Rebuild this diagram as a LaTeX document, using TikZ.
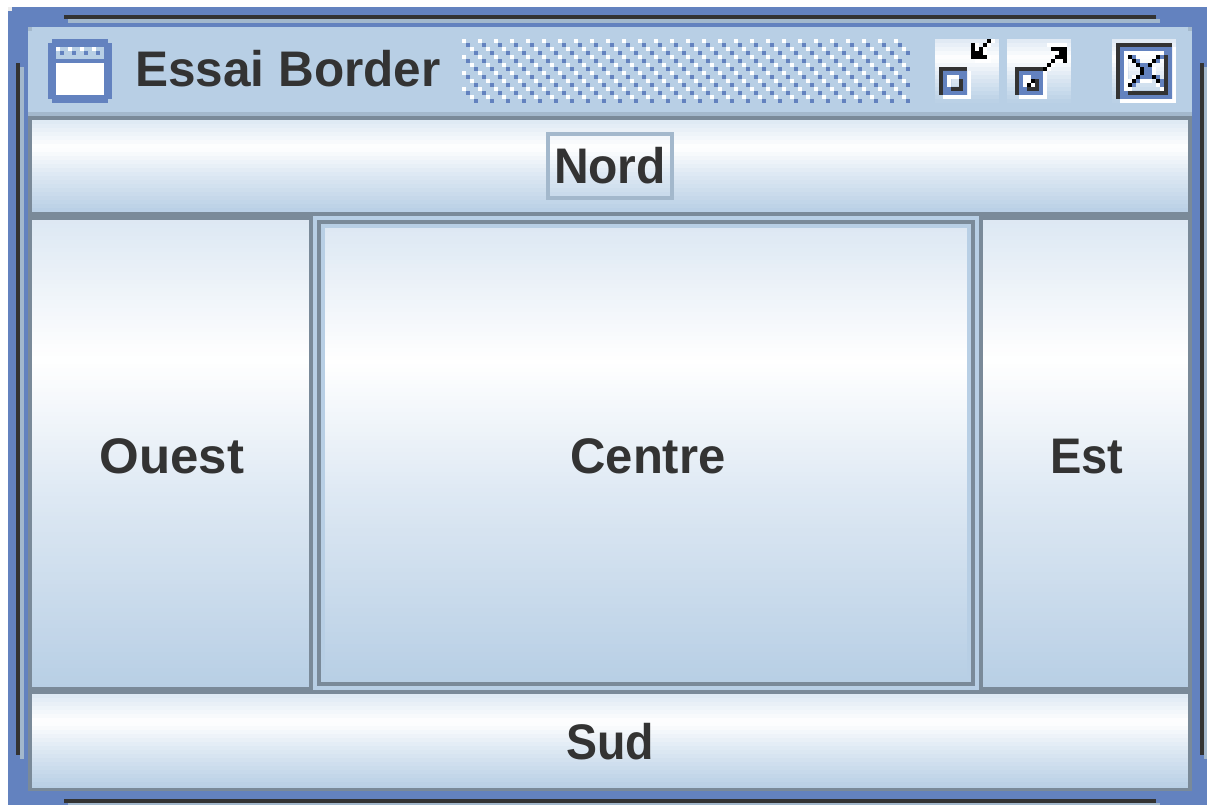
\documentclass[tikz,border=0pt]{standalone}
\usepackage{fontspec}
\setmainfont{Liberation Sans}
\definecolor{frameblue}{HTML}{6382BF}
\definecolor{ink}{HTML}{333333}
\definecolor{steel}{HTML}{7A8A99}
\definecolor{soft}{HTML}{A3B8CC}
\definecolor{grB}{HTML}{B8CFE5}
\definecolor{grA}{HTML}{DDE8F3}
\tikzset{lbl/.style={font=\fontsize{50}{50}\selectfont\bfseries, text=ink, inner sep=0pt, outer sep=0pt, anchor=base}}
% metal gradient in 4px bands: x0 y0 x1 y1
\newcommand\bands[4]{%
  \begin{scope}
    \clip (#1,#2) rectangle (#3,#4);
    \pgfmathtruncatemacro\nrm{ceil((#4-#2)/4)-1}
    \foreach \i in {0,...,\nrm}{%
      \pgfmathsetmacro\tpos{(\i*4+2)/(#4-#2)*100}
      \pgfmathsetmacro\ytop{#2+\i*4}
      \ifdim\tpos pt<30pt
        \pgfmathsetmacro\pc{\tpos/30*100}
        \colorlet{bandc}{white!\pc!grA}
      \else\ifdim\tpos pt<60pt
        \pgfmathsetmacro\pc{(60-\tpos)/30*100}
        \colorlet{bandc}{white!\pc!grA}
      \else
        \pgfmathsetmacro\pc{min(100,(\tpos-60)/40*100)}
        \colorlet{bandc}{grB!\pc!grA}
      \fi\fi
      \fill[bandc] (#1,\ytop) rectangle (#3,\ytop+5);
    }
  \end{scope}}
% single cells on a 4px grid: colour, x0, y0, list of col/row
\newcommand\cells[4]{\foreach \cc/\rr in {#4}{\fill[#1] ({#2+4*\cc},{#3+4*\rr}) rectangle +(4,4);}}
\begin{document}
\begin{tikzpicture}[x=1pt,y=-1pt]
\useasboundingbox (0,0) rectangle (1207,805);
\fill[white] (0,0) rectangle (1207,805);
% outer frame
\fill[frameblue] (8,7) rectangle (1207,805);
\fill[white!93!black] (8,7) rectangle (12,11);
% bumps
\fill[ink] (64,15) rectangle (1156,19);
\fill[soft] (68,19) rectangle (1160,23);
\fill[ink] (64,799) rectangle (1156,803);
\fill[soft] (68,803) rectangle (1160,805);
\fill[ink] (16,63) rectangle (20,755);
\fill[soft] (20,67) rectangle (24,759);
\fill[ink] (1200,63) rectangle (1204,755);
\fill[soft] (1204,67) rectangle (1207,759);
% title bar
\fill[grB] (28,27) rectangle (1192,112);
\fill[soft] (28,27) rectangle (32,31);
\fill[soft] (1188,27) rectangle (1192,31);
\fill[soft] (28,112) rectangle (1192,116);
% content frame
\fill[steel] (28,116) rectangle (1192,791);
% buttons
\bands{32}{120}{1188}{212}
\bands{32}{220}{309}{686}
\bands{983}{220}{1188}{686}
\bands{32}{694}{1188}{787}
% centre button
\fill[grB] (313,216) rectangle (979,690);
\fill[steel] (317,220) rectangle (975,686);
\fill[grB] (321,224) rectangle (971,682);
\bands{325}{228}{967}{678}
\fill[grB] (325,678) rectangle (967,682);
% Nord focus ring
\draw[soft,line width=4pt] (548,134) rectangle (672,198);
% window icon
\fill[frameblue] (52,39) rectangle (108,103);
\fill[frameblue] (48,43) rectangle (112,99);
\fill[white] (56,63) rectangle (104,95);
\fill[grB] (56,47) rectangle (104,59);
\cells{white}{56}{47}{0/0,3/0,6/0,9/0}
\cells{frameblue}{56}{47}{1/1,4/1,7/1,10/1}
% title dither
\foreach \k in {0,...,27}{\foreach \m in {0,...,3}{%
  \fill[white] ({462+16*\k},{39+16*\m}) rectangle +(4,4);
  \fill[frameblue] ({466+16*\k},{43+16*\m}) rectangle +(4,4);
  \fill[white] ({470+16*\k},{47+16*\m}) rectangle +(4,4);
  \fill[frameblue] ({474+16*\k},{51+16*\m}) rectangle +(4,4);
}}
% iconify button
\bands{935}{39}{999}{103}
\begin{scope}[shift={(935,39)},x=4pt,y=-4pt]
  \fill[white] (2,14) rectangle (9,15);
  \fill[white] (8,8) rectangle (9,15);
  \fill[ink] (1,7) rectangle (8,8);
  \fill[ink] (1,7) rectangle (2,14);
  \fill[frameblue,even odd rule] (2,8) rectangle (8,14) (4,10) rectangle (6,12);
  \fill[white] (3,9) rectangle (6,10);
  \fill[white] (3,9) rectangle (4,12);
  \fill[ink] (4,12) rectangle (7,13);
  \fill[ink] (6,10) rectangle (7,13);
  \fill[white] (10,5) rectangle (14,6);
  \fill[white] (10,1) rectangle (11,3);
  \fill[white] (14,0) rectangle (15,1);
  \fill[white] (13,1) rectangle (14,2);
  \fill[white] (12,2) rectangle (13,3);
  \fill[white] (12,3) rectangle (13,4);
  \fill[white] (13,4) rectangle (14,5);
  \fill[black] (9,1) rectangle (10,5);
  \fill[black] (9,4) rectangle (13,5);
  \fill[black] (10,3) rectangle (12,4);
  \fill[black] (11,2) rectangle (12,3);
  \fill[black] (12,1) rectangle (13,2);
  \fill[black] (13,0) rectangle (14,1);
\end{scope}
% maximise button
\bands{1007}{39}{1071}{103}
\begin{scope}[shift={(1007,39)},x=4pt,y=-4pt]
  \fill[white] (3,14) rectangle (10,15);
  \fill[white] (9,8) rectangle (10,15);
  \fill[ink] (2,7) rectangle (9,8);
  \fill[ink] (2,7) rectangle (3,14);
  \fill[frameblue] (3,8) rectangle (9,14);
  \fill[white] (4,9) rectangle (6,12);
  \fill[ink] (5,12) rectangle (8,13);
  \fill[ink] (7,10) rectangle (8,13);
  \fill[frameblue] (7,9) rectangle (8,10);
  \fill[white] (6,11) rectangle (7,12);
  \fill[white] (10,1) rectangle (15,2);
  \fill[white] (10,7) rectangle (11,8);
  \fill[white] (11,6) rectangle (12,7);
  \fill[white] (12,5) rectangle (14,6);
  \fill[white] (11,3) rectangle (13,4);
  \fill[black] (6,10) rectangle (7,11);
  \fill[black] (5,11) rectangle (6,12);
  \fill[black] (9,7) rectangle (10,8);
  \fill[black] (10,6) rectangle (11,7);
  \fill[black] (11,5) rectangle (12,6);
  \fill[black] (12,4) rectangle (15,5);
  \fill[black] (13,3) rectangle (15,4);
  \fill[black] (11,2) rectangle (15,3);
  \fill[black] (14,2) rectangle (15,6);
\end{scope}
% close button
\bands{1112}{39}{1176}{103}
\begin{scope}[shift={(1112,39)},x=4pt,y=-4pt]
  \fill[white] (2,15) rectangle (16,16);
  \fill[white] (15,2) rectangle (16,16);
  \fill[frameblue,even odd rule] (2,2) rectangle (15,15) (4,4) rectangle (13,13);
  \fill[ink] (1,1) rectangle (15,2);
  \fill[ink] (1,1) rectangle (2,15);
  \fill[white] (3,3) rectangle (13,4);
  \fill[white] (3,3) rectangle (4,13);
  \fill[ink] (13,4) rectangle (14,14);
  \fill[ink] (4,13) rectangle (14,14);
  \fill[frameblue] (8,6) rectangle (10,10);
  \fill[frameblue] (10,7) rectangle (11,9);
\end{scope}
\cells{frameblue}{1112}{39}{5/4,6/5,12/4,11/5,11/9,12/10,12/11,6/10,5/11,7/6,7/9}
\cells{white}{1112}{39}{10/7,10/8,7/10,8/10,9/10,5/9,4/10,11/11,4/12,12/12}
\cells{black}{1112}{39}{4/4,5/5,6/6,7/7,7/8,6/9,5/10,4/11,11/4,10/5,9/6,10/9,11/10}
% labels
\node[lbl] (title) at (288,87) {\scalebox{0.99}[1]{Essai Border}};
\node[lbl] (nord) at (610,184) {\scalebox{0.96}[1]{Nord}};
\node[lbl] (ouest) at (172,473) {\scalebox{1.02}[1]{Ouest}};
\node[lbl] (centre) at (648,473) {\scalebox{0.98}[1]{Centre}};
\node[lbl] (est) at (1087,473) {\scalebox{0.94}[1]{Est}};
\node[lbl] (sud) at (610,759) {\scalebox{0.93}[1]{Sud}};
\end{tikzpicture}
\end{document}
